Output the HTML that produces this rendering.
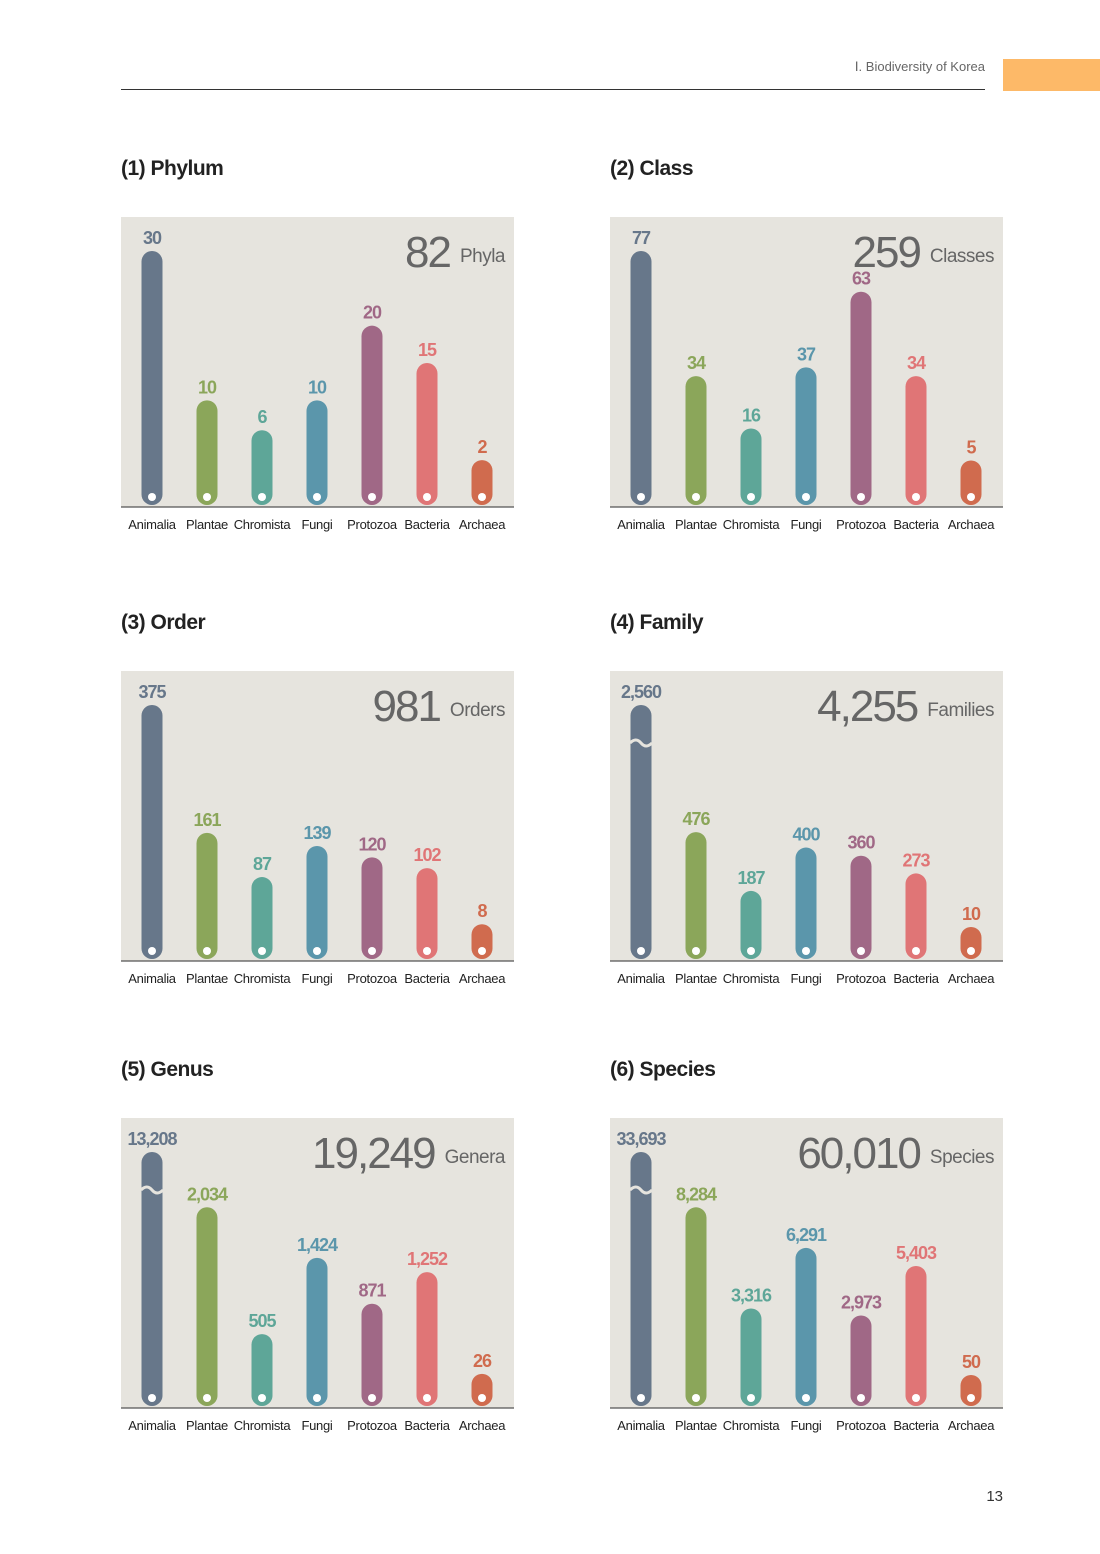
<!DOCTYPE html>
<html><head><meta charset="utf-8"><style>
body{margin:0;background:#fff;font-family:"Liberation Sans",sans-serif}
#page{position:relative;width:1100px;height:1554px;overflow:hidden}
.title{position:absolute;font-weight:bold;font-size:21px;color:#222;letter-spacing:-0.5px}
svg text{font-family:"Liberation Sans",sans-serif}
</style></head><body>
<div id="page">
<div style="position:absolute;left:800px;top:59px;width:185px;text-align:right;font-size:13px;color:#666">Ⅰ. Biodiversity of Korea</div>
<div style="position:absolute;left:121px;top:89px;width:864px;height:1px;background:#333"></div>
<div style="position:absolute;left:1003px;top:59px;width:97px;height:32px;background:#fdb968"></div>
<div style="position:absolute;left:970px;top:1488px;width:33px;text-align:right;font-size:15px;color:#333">13</div>
<div id="charts"></div>
</div>
<script>
const categories=["Animalia","Plantae","Chromista","Fungi","Protozoa","Bacteria","Archaea"];
const phylumValues=[30,10,6,10,20,15,2];
const classValues=[77,34,16,37,63,34,5];
const orderValues=[375,161,87,139,120,102,8];
const familyValues=[2560,476,187,400,360,273,10];
const genusValues=[13208,2034,505,1424,871,1252,26];
const speciesValues=[33693,8284,3316,6291,2973,5403,50];
const totals=["82","259","981","4,255","19,249","60,010"];
const totalUnits=["Phyla","Classes","Orders","Families","Genera","Species"];
const chartTitles=["(1) Phylum","(2) Class","(3) Order","(4) Family","(5) Genus","(6) Species"];
const domainMax=[30,77,375,1100,2700,11000];
const colors=["#67778a","#8ba65a","#5ea698","#5b96ab","#a06886","#e07576","#d06b4e"];
const allValues=[phylumValues,classValues,orderValues,familyValues,genusValues,speciesValues];
const NS="http://www.w3.org/2000/svg";
const lefts=[121,610],tops=[217,671,1118];
function mk(tag,attrs,parent){const e=document.createElementNS(NS,tag);for(const k in attrs)e.setAttribute(k,attrs[k]);parent.appendChild(e);return e;}
const host=document.getElementById('charts');
allValues.forEach((vals,ci)=>{
  const L=lefts[ci%2],T=tops[Math.floor(ci/2)];
  const t=document.createElement('div');t.className='title';
  t.style.left=L+'px';t.style.top=(T-60)+'px';t.textContent=chartTitles[ci];
  
  
  host.appendChild(t);
  const svg=document.createElementNS(NS,'svg');
  svg.setAttribute('width',393);svg.setAttribute('height',330);
  svg.style.position='absolute';svg.style.left=L+'px';svg.style.top=T+'px';
  
  
  host.appendChild(svg);
  const bg=mk('rect',{x:0,y:0,width:393,height:290,fill:'#e6e4de'},svg);
  
  
  const base=290;
  const yH=v=>30+224*Math.min(v,domainMax[ci])/domainMax[ci];
  vals.forEach((v,i)=>{
    const cx=31+55*i,h=yH(v),top=base-2-h;
    const bar=mk('rect',{x:cx-10.5,y:top,width:21,height:h,rx:10.5,fill:colors[i]},svg);
    
    
    const dot=mk('circle',{cx:cx,cy:base-10,r:4,fill:'#fff'},svg);
    
    
    if(v>domainMax[ci]){
      const br=mk('path',{d:`M${cx-11} ${top+38} q6 -6 11 0 t11 0`,stroke:'#e6e4de',"stroke-width":3,fill:'none'},svg);
      
      
    }
    const lab=mk('text',{x:cx,y:top-7,"text-anchor":'middle',"font-size":18,"font-weight":'bold',fill:colors[i],"letter-spacing":-1},svg);
    lab.textContent=v.toLocaleString('en-US');
    
    
    const cat=mk('text',{x:cx,y:base+22,"text-anchor":'middle',"font-size":13,fill:'#222',"letter-spacing":-0.3},svg);
    cat.textContent=categories[i];
    
    
  });
  const axis=mk('line',{x1:0,y1:base,x2:393,y2:base,stroke:'#555',"stroke-width":1.2},svg);
  
  
  const unit=mk('text',{x:384,y:45,"text-anchor":'end',"font-size":19,fill:'#666',"letter-spacing":-0.5},svg);
  unit.textContent=totalUnits[ci];
  
  
  const uw=unit.getComputedTextLength();
  const tot=mk('text',{x:384-uw-10,y:50,"text-anchor":'end',"font-size":44,fill:'#666',"letter-spacing":-2},svg);
  tot.textContent=totals[ci];
  
  
});
</script>
</body></html>
